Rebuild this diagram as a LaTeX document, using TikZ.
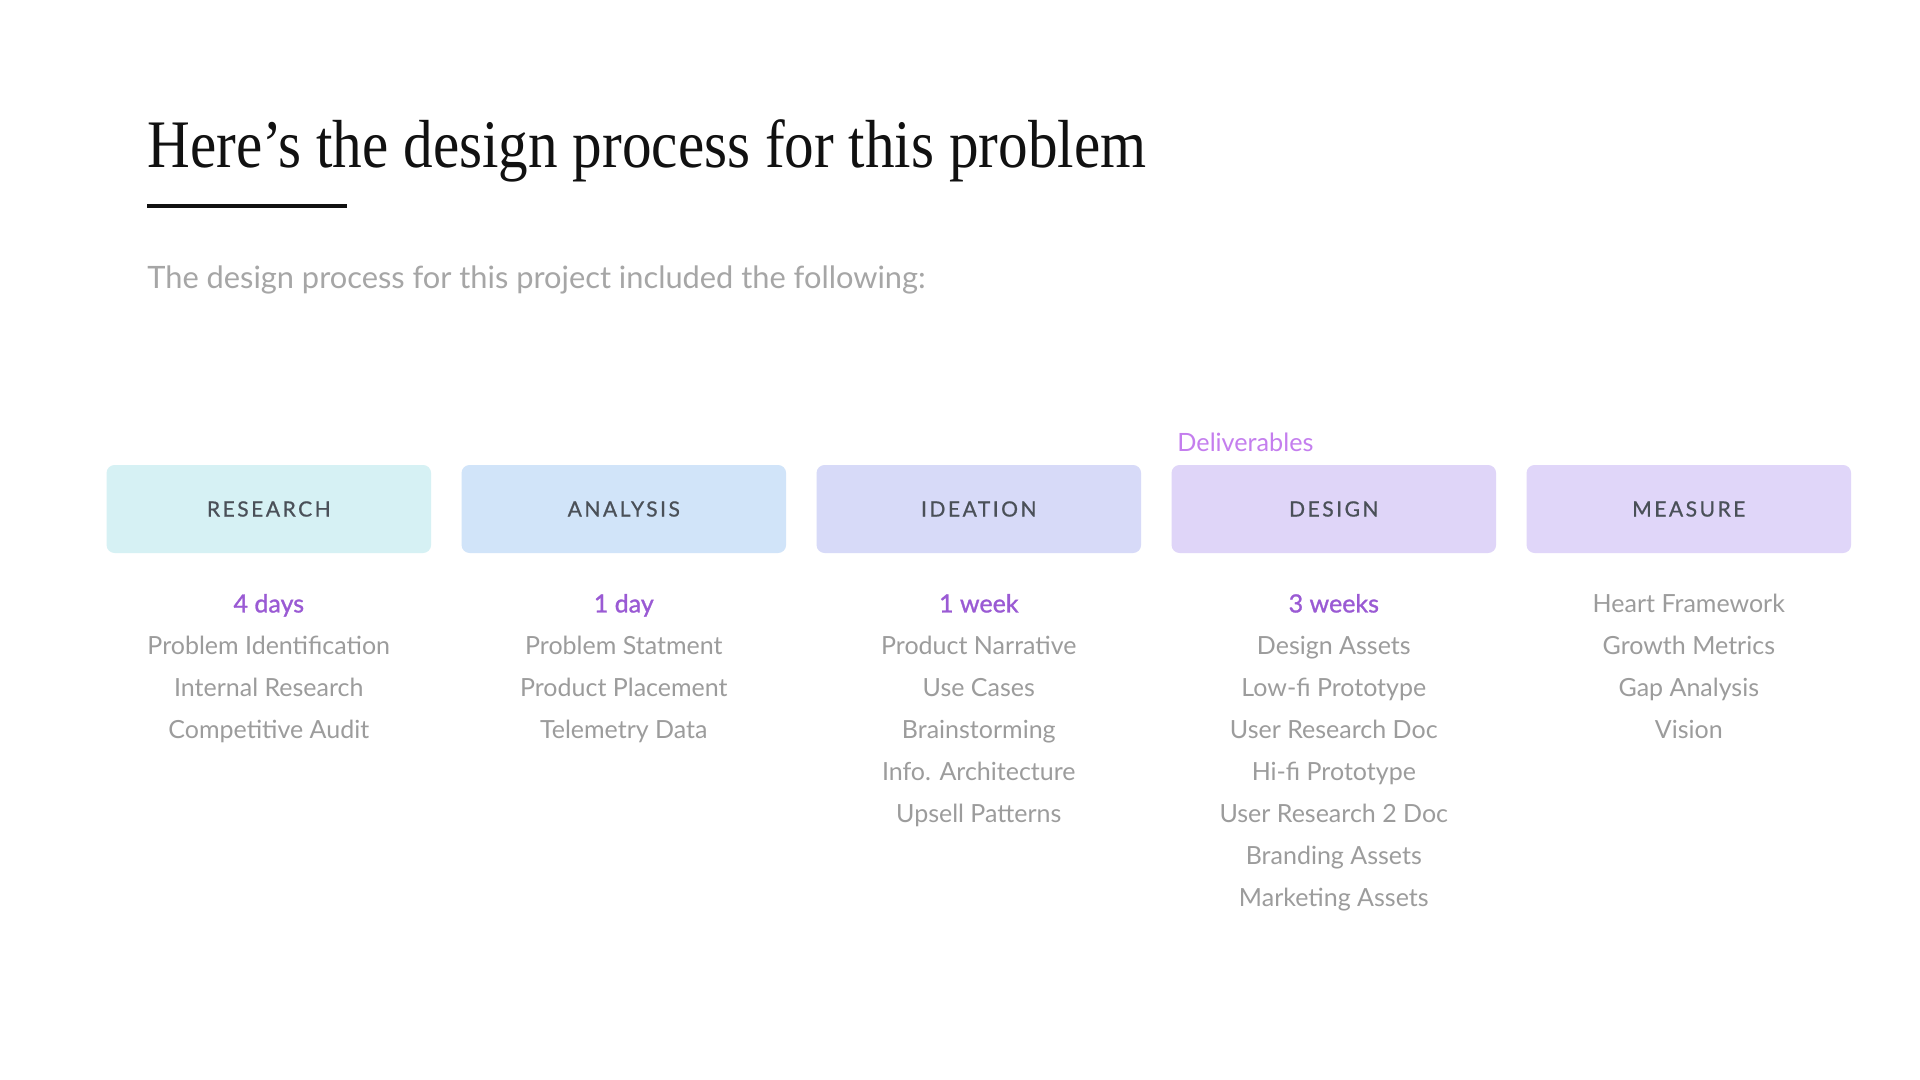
\documentclass[tikz,border=0pt]{standalone}
\usepackage{fontspec}
\usetikzlibrary{positioning}
\setmainfont{Lato}
\newfontfamily\headfont[FakeStretch=0.87]{Liberation Serif}
\newfontfamily\capsfont[LetterSpace=12,FakeBold=0.8]{Lato}
\newfontfamily\durfont[FakeBold=1.2]{Lato}
\definecolor{ink}{HTML}{111111}
\definecolor{subgray}{HTML}{A6A6A6}
\definecolor{itemgray}{HTML}{9C9C9C}
\definecolor{labelgray}{HTML}{4A5058}
\definecolor{durpurple}{HTML}{9A5AD4}
\definecolor{delpurple}{HTML}{C47EEE}
\definecolor{researchfill}{HTML}{D6F1F4}
\definecolor{analysisfill}{HTML}{D1E4F9}
\definecolor{ideationfill}{HTML}{D7DAF8}
\definecolor{designfill}{HTML}{DFD5F8}
\definecolor{measurefill}{HTML}{E0D6F9}
\tikzset{
	phase/.style={rounded corners=4pt, minimum width=162.25pt, minimum height=44pt,
		inner sep=0pt, outer sep=0pt, text=labelgray,
		font=\capsfont\fontsize{10.5}{12}\selectfont},
	items/.style={align=center, inner sep=0pt, outer sep=0pt, text=itemgray,
		font=\fontsize{12.5}{21}\selectfont},
}
\newcommand{\dur}[1]{\textcolor{durpurple}{\durfont #1}}

\begin{document}
\begin{tikzpicture}[x=0.5pt, y=-0.5pt, node distance=15.25pt]
	\fill[white] (0,0) rectangle (1920,1080);
	\useasboundingbox (0,0) rectangle (1920,1080);

	\node[anchor=base west, inner sep=0pt, text=ink, font=\headfont\fontsize{34}{40}\selectfont]
		(title) at (147,168) {Here’s the design process for this problem};
	\draw[ink, line width=2pt] (147,206) -- (347,206);
	\node[anchor=base west, inner sep=0pt, text=subgray, font=\fontsize{15.4}{20}\selectfont]
		(intro) at (147,289) {The design process for this project included the following:};

	\node[phase, fill=researchfill] (research) at (268.8,509) {RESEARCH};
	\node[phase, fill=analysisfill, right=of research] (analysis) {ANALYSIS};
	\node[phase, fill=ideationfill, right=of analysis] (ideation) {IDEATION};
	\node[phase, fill=designfill, right=of ideation] (design) {DESIGN};
	\node[phase, fill=measurefill, right=of design] (measure) {MEASURE};

	\node[anchor=base west, inner sep=0pt, text=delpurple, font=\fontsize{12.6}{14}\selectfont]
		(deliverables) at (1177,451) {Deliverables};

	\node[items, below=20.5pt of research] (researchlist) {
		\dur{4 days}\\
		Problem Identification\\
		Internal Research\\
		Competitive Audit};
	\node[items, below=20.5pt of analysis] (analysislist) {
		\dur{1 day}\\
		Problem Statment\\
		Product Placement\\
		Telemetry Data};
	\node[items, below=20.5pt of ideation] (ideationlist) {
		\dur{1 week}\\
		Product Narrative\\
		Use Cases\\
		Brainstorming\\
		Info. Architecture\\
		Upsell Patterns};
	\node[items, below=20.5pt of design] (designlist) {
		\dur{3 weeks}\\
		Design Assets\\
		Low-fi Prototype\\
		User Research Doc\\
		Hi-fi Prototype\\
		User Research 2 Doc\\
		Branding Assets\\
		Marketing Assets};
	\node[items, below=20.5pt of measure] (measurelist) {
		Heart Framework\\
		Growth Metrics\\
		Gap Analysis\\
		Vision};
\end{tikzpicture}
\end{document}
